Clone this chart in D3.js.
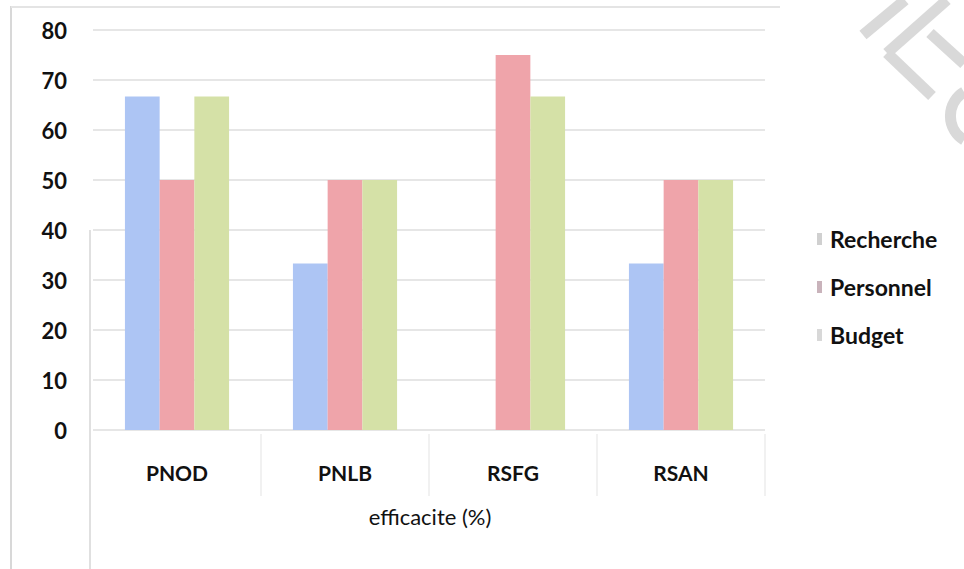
<!DOCTYPE html>
<html>
<head>
	<meta charset="utf-8">
	<title>efficacite (%)</title>
	<script src="https://d3js.org/d3.v7.min.js"></script>
	<style>
		body { margin: 0; background: #fff; }
		text { font-family: Lato, "Open Sans", sans-serif; fill: #111; }
	</style>
</head>
<body>
	<div class="chart"></div>

	<script type="text/javascript">
		const width = 964
		const height = 569
		const margin = { top: 30, right: 199, bottom: 139, left: 93 }

		// data
		const categories = ['PNOD', 'PNLB', 'RSFG', 'RSAN']
		const seriesNames = ['Recherche', 'Personnel', 'Budget']
		const recherche = [66.7, 33.3, 0, 33.3]
		const personnel = [50, 50, 75, 50]
		const budget = [66.7, 50, 66.7, 50]
		const yTicks = [0, 10, 20, 30, 40, 50, 60, 70, 80]
		const colors = ['#adc5f4', '#efa4aa', '#d5e1a7']

		const values = [recherche, personnel, budget]

		const svg = d3.select('.chart').append('svg')
			.attr('width', width)
			.attr('height', height)

		// outer frame (scanned border)
		svg.append('line')
			.attr('x1', 11).attr('x2', 11).attr('y1', 6).attr('y2', height)
			.attr('stroke', '#d8d8d8').attr('stroke-width', 2)
		svg.append('line')
			.attr('x1', 11).attr('x2', 780).attr('y1', 7).attr('y2', 7)
			.attr('stroke', '#e4e4e4').attr('stroke-width', 2)

		const x = d3.scaleBand(categories, [margin.left, width - margin.right])
		const xs = d3.scaleBand(seriesNames, [0, x.bandwidth()]).paddingOuter(0.92).paddingInner(0)
		const y = d3.scaleLinear([0, 80], [height - margin.bottom, margin.top])

		// gridlines
		svg.append('g')
			.selectAll('line')
			.data(yTicks)
			.join('line')
			.attr('x1', margin.left)
			.attr('x2', width - margin.right)
			.attr('y1', d => y(d))
			.attr('y2', d => y(d))
			.attr('stroke', '#e6e6e6')
			.attr('stroke-width', 2)

		// left axis line + category separators
		svg.append('line')
			.attr('x1', margin.left - 3).attr('x2', margin.left - 3)
			.attr('y1', y(40)).attr('y2', height)
			.attr('stroke', '#e0e0e0').attr('stroke-width', 2)
		svg.append('g')
			.selectAll('line')
			.data(categories.slice(1).concat(['end']))
			.join('line')
			.attr('x1', (d, i) => margin.left + x.step() * (i + 1))
			.attr('x2', (d, i) => margin.left + x.step() * (i + 1))
			.attr('y1', y(0) + 4)
			.attr('y2', y(0) + 66)
			.attr('stroke', '#ececec')
			.attr('stroke-width', 1.5)

		// bars
		svg.append('g')
			.selectAll('g')
			.data(seriesNames)
			.join('g')
			.attr('fill', (d, i) => colors[i])
			.selectAll('rect')
			.data((s, i) => categories.map((c, j) => ({ cat: c, series: s, value: values[i][j] })))
			.join('rect')
			.attr('x', d => x(d.cat) + xs(d.series))
			.attr('width', xs.bandwidth())
			.attr('y', d => y(d.value))
			.attr('height', d => y(0) - y(d.value))

		// y axis
		const yAxis = svg.append('g')
			.attr('transform', `translate(${margin.left - 26}, 1)`)
			.call(d3.axisLeft(y).tickValues(yTicks).tickSize(0).tickPadding(0))
		yAxis.select('.domain').remove()
		yAxis.selectAll('text')
			.attr('font-size', 22)
			.attr('font-weight', 700)
			.attr('font-family', 'Lato, sans-serif')
			.attr('fill', '#111')

		// x axis
		const xAxis = svg.append('g')
			.attr('transform', `translate(0, ${y(0) + 36})`)
			.call(d3.axisBottom(x).tickSize(0).tickPadding(0))
		xAxis.select('.domain').remove()
		xAxis.selectAll('text')
			.attr('font-size', 21)
			.attr('font-weight', 700)
			.attr('font-family', 'Lato, sans-serif')
			.attr('fill', '#111')

		// x title
		svg.append('text')
			.attr('x', 430)
			.attr('y', 525)
			.attr('text-anchor', 'middle')
			.attr('font-size', 22)
			.text('efficacite (%)')

		// legend
		const legend = svg.append('g')
			.attr('transform', 'translate(817, 240)')
			.selectAll('g')
			.data(seriesNames)
			.join('g')
			.attr('transform', (d, i) => `translate(0, ${i * 48})`)
		legend.append('rect')
			.attr('x', 0).attr('y', -7)
			.attr('width', 5).attr('height', 12)
			.attr('fill', (d, i) => ['#d0d0d0', '#c9b3bb', '#d8d8d8'][i])
		legend.append('text')
			.attr('x', 13)
			.attr('y', 8)
			.attr('font-size', 23)
			.attr('font-weight', 700)
			.text(d => d)

		// watermark traces
		const wm = svg.append('g')
			.attr('stroke', '#d9d9d9')
			.attr('stroke-width', 11)
			.attr('fill', 'none')
		wm.append('path').attr('d', 'M863,35 L905,0')
		wm.append('path').attr('d', 'M887,53 L947,0')
		wm.append('path').attr('d', 'M887,53 L932,96')
		wm.append('path').attr('d', 'M930,33 L964,64')
		wm.append('path').attr('d', 'M964,92 A28,28 0 0,0 964,140')
	</script>
</body>
</html>
